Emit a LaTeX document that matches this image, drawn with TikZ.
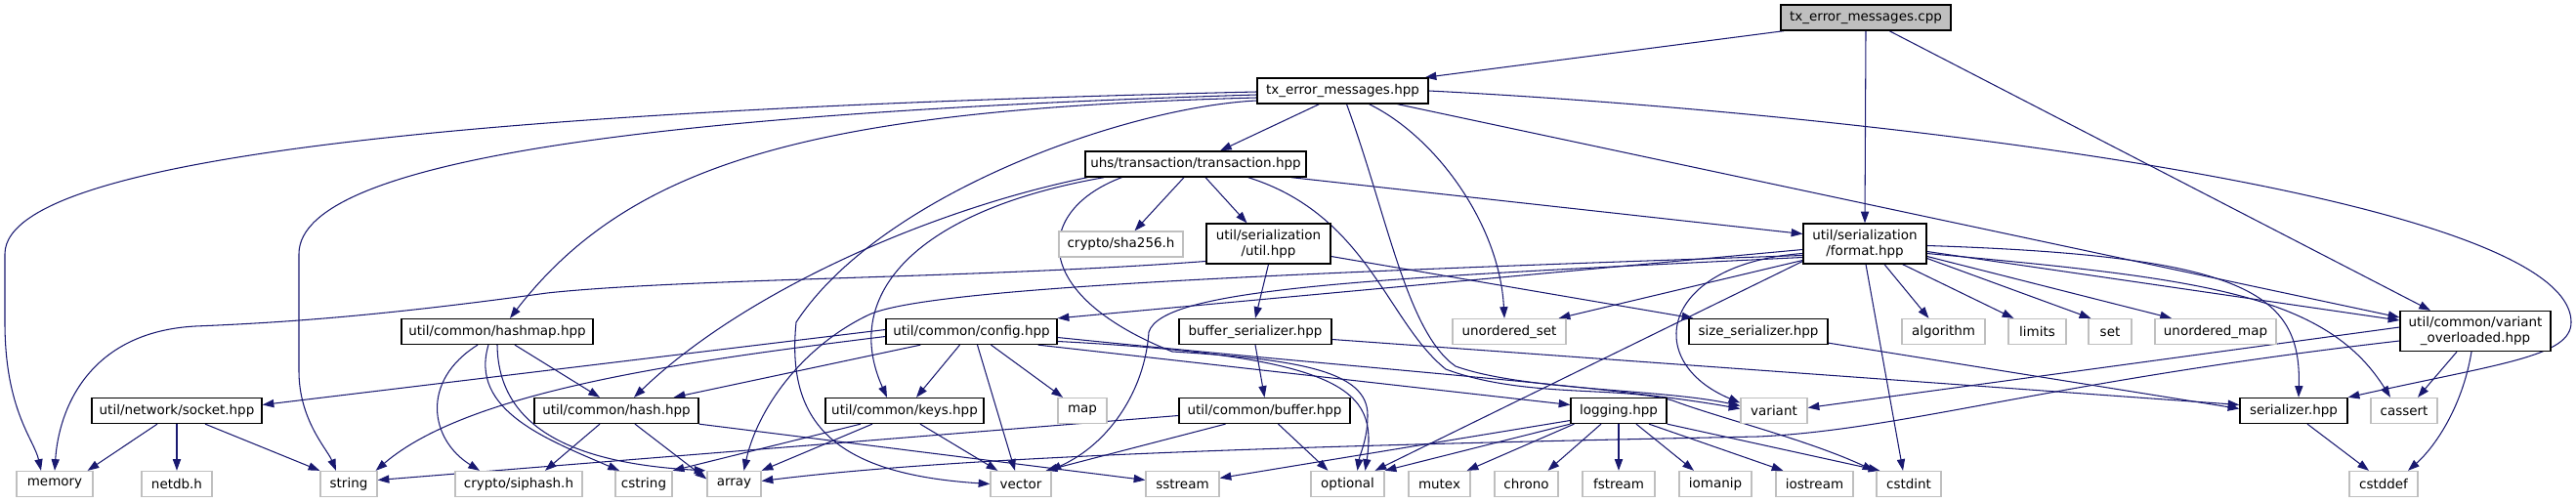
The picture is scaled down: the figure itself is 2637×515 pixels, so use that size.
\documentclass[tikz,border=0pt]{standalone}
\usepackage{fontspec}
\setmainfont{DejaVu Sans}
\usetikzlibrary{arrows.meta,calc}
\pgfdeclarelayer{bg}
\pgfsetlayers{bg,main}
\definecolor{edgec}{HTML}{191970}
\definecolor{grayb}{HTML}{BFBFBF}
\begin{document}
\begin{tikzpicture}[x=0.03cm,y=-0.03cm,
 nbox/.style={draw=black,line width=1.1pt,rectangle,inner sep=0pt,minimum height=0.78cm,minimum width=#1*0.03cm,font=\fontsize{11.5}{13.6}\selectfont,align=center,fill=white},
 gbox/.style={nbox=#1,draw=grayb},
 tbox/.style={nbox=#1,minimum height=1.23cm},
 conn/.style={draw=edgec,line width=0.9pt,-{Triangle[length=10pt,width=7pt]}}]
\useasboundingbox (0,0) rectangle (2637,515);
% row 0-3
\node[nbox=174,fill=grayb] (cpp) at (1910,18) {tx\_error\_messages.cpp};
\node[nbox=175] (hpp) at (1374.5,93) {tx\_error\_messages.hpp};
\node[nbox=226] (transaction) at (1224,168) {uhs/transaction/transaction.hpp};
\node[gbox=127] (sha256) at (1147.5,250) {crypto/sha256.h};
\node[tbox=127] (sutil) at (1298.5,249.5) {util/serialization\\/util.hpp};
\node[tbox=126] (format) at (1909,249.5) {util/serialization\\/format.hpp};
% row 4
\node[nbox=196] (hashmap) at (509,339.5) {util/common/hashmap.hpp};
\node[nbox=175] (config) at (994.5,339.5) {util/common/config.hpp};
\node[nbox=156] (bufser) at (1285,339.5) {buffer\_serializer.hpp};
\node[gbox=116] (uset) at (1545,339.5) {unordered\_set};
\node[nbox=142] (sizeser) at (1800,339.5) {size\_serializer.hpp};
\node[gbox=85] (algorithm) at (1989.5,339.5) {algorithm};
\node[gbox=59] (limits) at (2085.5,339.5) {limits};
\node[gbox=44] (set) at (2160,339.5) {set};
\node[gbox=124] (umap) at (2268,339.5) {unordered\_map};
\node[tbox=154] (varov) at (2534,339) {util/common/variant\\\_overloaded.hpp};
% row 5
\node[nbox=174] (socket) at (181,420.5) {util/network/socket.hpp};
\node[nbox=168] (hash) at (631,420.5) {util/common/hash.hpp};
\node[nbox=162] (keys) at (926,420.5) {util/common/keys.hpp};
\node[gbox=50] (map) at (1108,420.5) {map};
\node[nbox=175] (buffer) at (1294.5,420.5) {util/common/buffer.hpp};
\node[nbox=98] (logging) at (1657,420.5) {logging.hpp};
\node[gbox=68] (variant) at (1816,420.5) {variant};
\node[nbox=110] (serializer) at (2348,420.5) {serializer.hpp};
\node[gbox=68] (cassert) at (2461,420.5) {cassert};
% row 6
\node[gbox=78] (memory) at (56,495.5) {memory};
\node[gbox=72] (netdb) at (181,495.5) {netdb.h};
\node[gbox=58] (string) at (357,495.5) {string};
\node[gbox=130] (siphash) at (531,495.5) {crypto/siphash.h};
\node[gbox=58] (cstring) at (659,495.5) {cstring};
\node[gbox=55] (array) at (751.5,495.5) {array};
\node[gbox=62] (vector) at (1045,495.5) {vector};
\node[gbox=75] (sstream) at (1210.5,495.5) {sstream};
\node[gbox=75] (optional) at (1379.5,495.5) {optional};
\node[gbox=63] (mutex) at (1473.5,495.5) {mutex};
\node[gbox=65] (chrono) at (1562.5,495.5) {chrono};
\node[gbox=74] (fstream) at (1657,495.5) {fstream};
\node[gbox=74] (iomanip) at (1756,495.5) {iomanip};
\node[gbox=79] (iostream) at (1857.5,495.5) {iostream};
\node[gbox=66] (cstdint) at (1954,495.5) {cstdint};
\node[gbox=70] (cstddef) at (2440,495.5) {cstddef};

\begin{pgfonlayer}{bg}
% cpp
\draw[conn] ($(cpp.south west)+(4,0)$) -- ($(hpp.north east)+(-4,0)$);
\draw[conn] (cpp.south) -- (format.north);
\draw[conn] ($(cpp.south)+(24,0)$) -- ($(varov.north)+(-46,0)$);
% hpp
\draw[conn] ($(hpp.south)+(-24,0)$) -- ($(transaction.north)+(25,0)$);
\draw[conn] ($(hpp.west)+(0,1)$) .. controls (600,110) and (5,150) .. (5,260) -- (5,330) .. controls (5,420) and (35,450) .. ($(memory.north)+(-14,0)$);
\draw[conn] ($(hpp.west)+(0,4)$) .. controls (700,115) and (306,160) .. (306,260) -- (306,380) .. controls (306,430) and (335,460) .. ($(string.north)+(-13,0)$);
\draw[conn] ($(hpp.west)+(0,7)$) .. controls (850,112) and (650,160) .. ($(hashmap.north)+(13,0)$);
\draw[conn] ($(hpp.west)+(0,10)$) .. controls (1150,110) and (900,200) .. (815,330) .. controls (805,430) and (850,485) .. (vector.west);
\draw[conn] ($(hpp.south)+(27,0)$) .. controls (1470,140) and (1535,230) .. ($(uset.north)+(-5,0)$);
\draw[conn] ($(hpp.south)+(4,0)$) .. controls (1420,220) and (1440,340) .. (1490,375) .. controls (1560,400) and (1700,398) .. ($(variant.west)+(0,-5)$);
\draw[conn] ($(hpp.south)+(56,0)$) -- ($(varov.west)+(0,-14)$);
\draw[conn] (hpp.east) .. controls (1900,115) and (2632,200) .. (2632,330) .. controls (2632,365) and (2560,372) .. (serializer.north east);
% transaction
\draw[conn] ($(transaction.south)+(-12,0)$) -- ($(sha256.north)+(14,0)$);
\draw[conn] ($(transaction.south)+(10,0)$) -- ($(sutil.north)+(-22,0)$);
\draw[conn] ($(transaction.south east)+(-16,0)$) -- ($(format.west)+(0,-10)$);
\draw[conn] ($(transaction.south west)+(3,0)$) .. controls (950,215) and (760,300) .. ($(hash.north)+(18,0)$);
\draw[conn] ($(transaction.south west)+(20,0)$) .. controls (940,215) and (860,300) .. ($(keys.north)+(-18,0)$);
\draw[conn] ($(transaction.south west)+(38,0)$) .. controls (1060,215) and (1050,300) .. (1200,360) .. controls (1330,368) and (1400,380) .. (1400,425) .. controls (1400,450) and (1392,465) .. ($(optional.north)+(10,0)$);
\draw[conn] ($(transaction.south east)+(-60,0)$) .. controls (1400,220) and (1420,330) .. (1480,378) .. controls (1560,408) and (1660,395) .. (1712,410) .. controls (1760,428) and (1850,450) .. ($(cstdint.north west)+(-2,0)$);
% sutil
\draw[conn] ($(sutil.west)+(0,18)$) .. controls (1000,285) and (700,285) .. (560,300) .. controls (400,322) and (300,330) .. (200,334) .. controls (90,340) and (60,420) .. (memory.north);
\draw[conn] (sutil.south) -- (bufser.north);
\draw[conn] ($(sutil.east)+(0,13)$) -- ($(sizeser.north west)+(5,0)$);
% format
\draw[conn] ($(format.west)+(0,6)$) -- (config.north east);
\draw[conn] ($(format.west)+(0,17)$) -- ($(uset.north east)+(-8,0)$);
\draw[conn] ($(format.west)+(0,10)$) .. controls (1700,270) and (1680,370) .. ($(variant.west)+(0,-8)$);
\draw[conn] ($(format.west)+(0,18)$) -- ($(optional.north)+(28,0)$);
\draw[conn] ($(format.west)+(0,12)$) .. controls (1300,280) and (950,295) .. (890,322) .. controls (820,355) and (775,420) .. ($(array.north)+(10,0)$);
\draw[conn] ($(format.west)+(0,14)$) .. controls (1400,285) and (1190,295) .. (1176,340) .. controls (1172,400) and (1135,455) .. ($(vector.north east)+(-2,0)$);
\draw[conn] ($(format.south)+(20,0)$) -- ($(algorithm.north)+(-15,0)$);
\draw[conn] ($(format.south east)+(-25,0)$) -- ($(limits.north west)+(6,0)$);
\draw[conn] ($(format.east)+(0,15)$) -- ($(set.north west)+(3,0)$);
\draw[conn] ($(format.east)+(0,13)$) -- ($(umap.north)+(-45,0)$);
\draw[conn] ($(format.east)+(0,8)$) -- ($(varov.west)+(0,-11)$);
\draw[conn] ($(format.east)+(0,10)$) .. controls (2250,285) and (2380,300) .. ($(cassert.north)+(-14,0)$);
\draw[conn] ($(format.east)+(0,2)$) .. controls (2300,262) and (2356,300) .. ($(serializer.north)+(5,0)$);
\draw[conn] ($(format.south)+(1,0)$) -- ($(cstdint.north)+(-6,0)$);
% hashmap
\draw[conn] ($(hashmap.south)+(18,0)$) -- ($(hash.north)+(-17,0)$);
\draw[conn] ($(hashmap.south)+(-20,0)$) .. controls (430,390) and (440,450) .. ($(siphash.north)+(-40,0)$);
\draw[conn] ($(hashmap.south)+(-9,0)$) .. controls (480,420) and (560,450) .. ($(cstring.north)+(-25,0)$);
\draw[conn] (hashmap.south) .. controls (510,445) and (600,475) .. ($(array.north west)+(-1,0)$);
% config
\draw[conn] ($(config.west)+(0,-2)$) -- ($(socket.east)+(0,-6)$);
\draw[conn] ($(config.west)+(0,5)$) .. controls (700,370) and (480,400) .. ($(string.north east)+(-2,0)$);
\draw[conn] ($(config.south west)+(36,0)$) -- ($(hash.north east)+(-26,0)$);
\draw[conn] ($(config.south)+(-12,0)$) -- ($(keys.north)+(12,0)$);
\draw[conn] ($(config.south)+(20,0)$) -- ($(map.north)+(-20,0)$);
\draw[conn] ($(config.south)+(6,0)$) -- ($(vector.north)+(-6,0)$);
\draw[conn] ($(config.south east)+(-20,0)$) -- ($(logging.west)+(0,-6)$);
\draw[conn] ($(config.east)+(0,6)$) .. controls (1400,378) and (1650,395) .. ($(variant.west)+(0,-2)$);
\draw[conn] ($(config.east)+(0,10)$) .. controls (1380,365) and (1410,400) .. ($(optional.north)+(18,0)$);
% serializers
\draw[conn] (bufser.south) -- (buffer.north);
\draw[conn] ($(bufser.east)+(0,8)$) -- ($(serializer.west)+(0,-6)$);
\draw[conn] ($(sizeser.south east)+(0,-2)$) -- ($(serializer.west)+(0,-2)$);
\draw[conn] ($(serializer.south)+(14,0)$) -- ($(cstddef.north)+(-15,0)$);
% varov
\draw[conn] ($(varov.south)+(-4,0)$) .. controls (2520,420) and (2490,460) .. ($(cstddef.north)+(25,0)$);
\draw[conn] ($(varov.south)+(-19,0)$) -- ($(cassert.north)+(14,0)$);
\draw[conn] ($(varov.west)+(0,-4)$) -- ($(variant.east)+(0,-3)$);
\draw[conn] ($(varov.west)+(0,10)$) .. controls (2100,390) and (1950,440) .. (1800,447) .. controls (1400,455) and (1000,465) .. ($(array.east)+(0,-3)$);
% socket
\draw[conn] ($(socket.south)+(-20,0)$) -- ($(memory.north east)+(-6,0)$);
\draw[conn] (socket.south) -- (netdb.north);
\draw[conn] ($(socket.south)+(29,0)$) -- (string.north west);
% hash
\draw[conn] ($(hash.south)+(-17,0)$) -- ($(siphash.north)+(27,0)$);
\draw[conn] ($(hash.south)+(19,0)$) -- ($(array.west)+(0,-5)$);
\draw[conn] (hash.south east) -- ($(sstream.west)+(0,-4)$);
% keys
\draw[conn] ($(keys.south)+(-33,0)$) -- (array.north east);
\draw[conn] ($(keys.south)+(-45,0)$) -- (cstring.north east);
\draw[conn] ($(keys.south)+(16,0)$) -- ($(vector.north west)+(8,0)$);
% buffer
\draw[conn] ($(buffer.west)+(0,5)$) -- ($(string.east)+(0,-4)$);
\draw[conn] ($(buffer.south)+(-40,0)$) -- ($(vector.north east)+(-6,0)$);
\draw[conn] ($(buffer.south)+(14,0)$) -- ($(optional.north)+(-20,0)$);
% logging
\draw[conn] ($(logging.west)+(0,10)$) -- ($(sstream.east)+(0,-6)$);
\draw[conn] (logging.south west) -- (optional.north east);
\draw[conn] ($(logging.south west)+(4,0)$) -- ($(mutex.north east)+(-4,0)$);
\draw[conn] ($(logging.south)+(-18,0)$) -- ($(chrono.north)+(22,0)$);
\draw[conn] (logging.south) -- (fstream.north);
\draw[conn] ($(logging.south)+(18,0)$) -- ($(iomanip.north)+(-22,0)$);
\draw[conn] ($(logging.south)+(31,0)$) -- ($(iostream.north west)+(8,0)$);
\draw[conn] (logging.south east) -- ($(cstdint.north west)+(4,0)$);
\end{pgfonlayer}
\end{tikzpicture}
\end{document}
